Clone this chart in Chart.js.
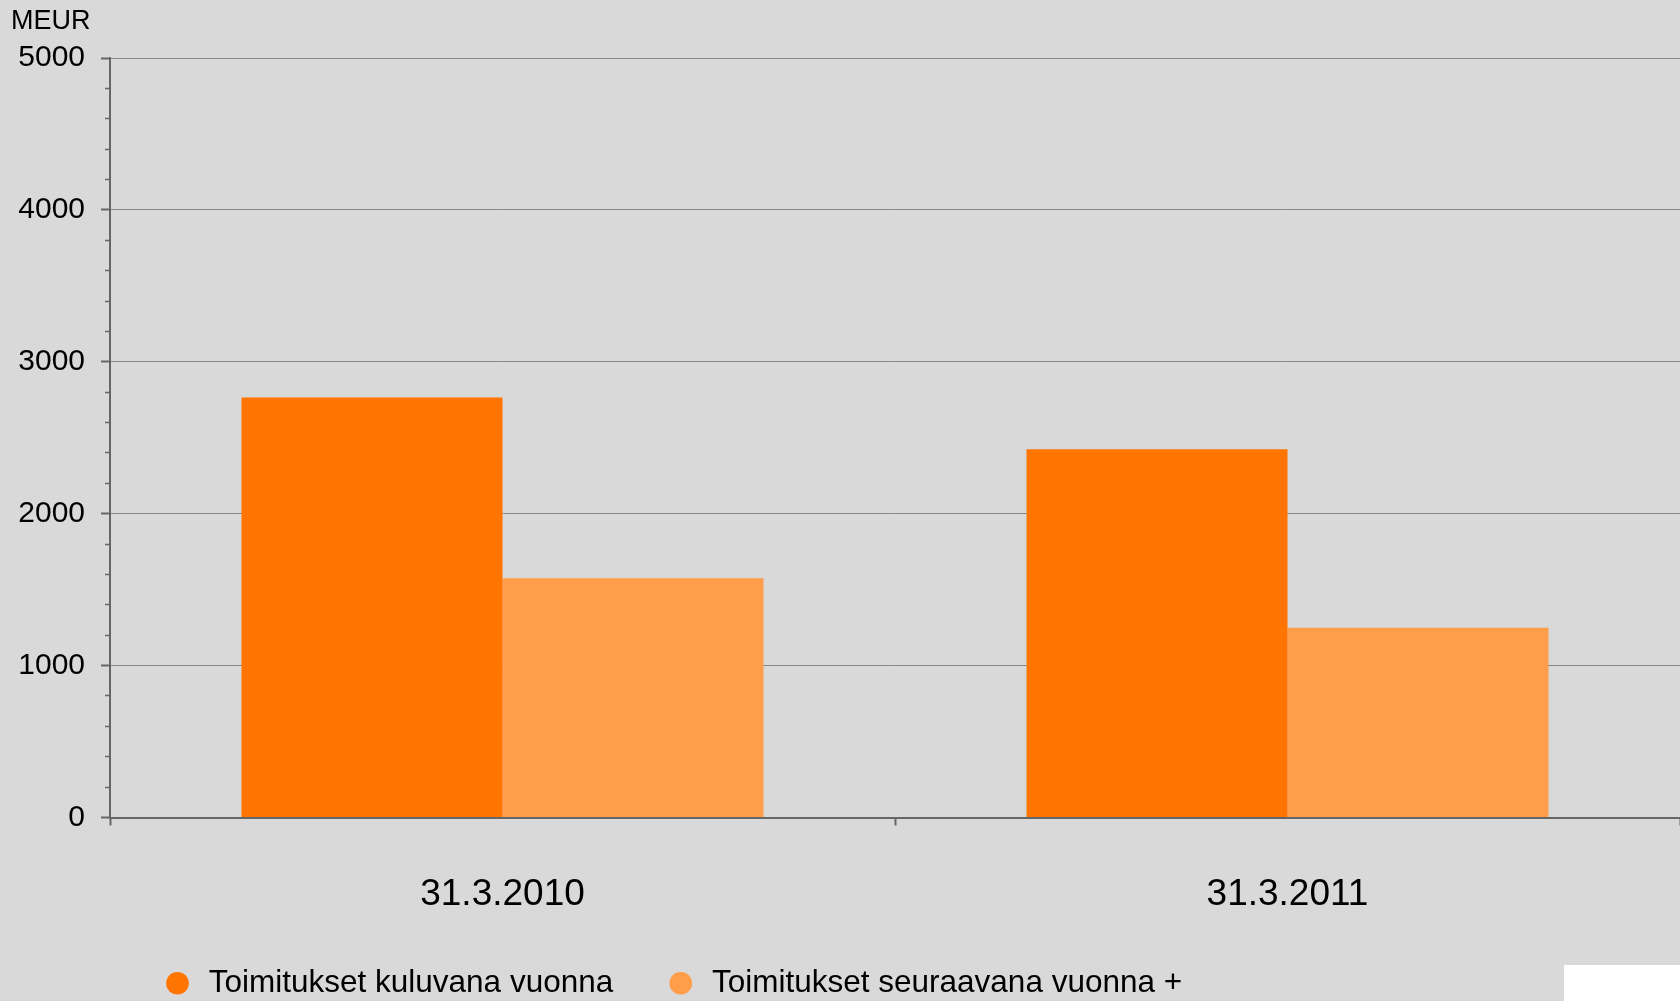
<!DOCTYPE html>
<html><head><meta charset="utf-8">
<script src="https://cdn.jsdelivr.net/npm/chart.js@4/dist/chart.umd.min.js"></script>
<style>
html,body{margin:0;padding:0;background:#d9d9d9;overflow:hidden;width:1680px;height:1001px}
#wrap{position:absolute;left:0;top:0;width:1680px;height:1009px;background:#d9d9d9}
#patch{position:absolute;left:1564px;top:965px;width:116px;height:36px;background:#fff}
</style></head><body>
<div id="wrap"><canvas id="c"></canvas></div>
<div id="patch"></div>
<script>
const categories = ['31.3.2010', '31.3.2011'];
const seriesNames = ['Toimitukset kuluvana vuonna', 'Toimitukset seuraavana vuonna +'];
const currentYear = [2765, 2425];
const nextYear = [1575, 1250];
const yMin = 0, yMax = 5000, yMajorStep = 1000, yMinorStep = 200;
const yAxisTitle = 'MEUR';
const seriesColors = ['#FF7500', '#FF9D4B'];

Chart.defaults.font.family = '"Liberation Sans", Arial, sans-serif';
Chart.defaults.color = '#000';

const isMajor = (ctx) => ctx.tick && (ctx.tick.value % yMajorStep === 0);

new Chart(document.getElementById('c'), {
  type: 'bar',
  data: {
    labels: categories,
    datasets: [
      {label: seriesNames[0], data: currentYear, backgroundColor: seriesColors[0], borderWidth: 0},
      {label: seriesNames[1], data: nextYear, backgroundColor: seriesColors[1], borderWidth: 0}
    ]
  },
  options: {
    responsive: true,
    maintainAspectRatio: false,
    animation: false,
    events: [],
    categoryPercentage: 0.665,
    barPercentage: 1,
    layout: {padding: {left: 11, right: 0, top: 0, bottom: 0}},
    plugins: {
      title: {display: true, text: yAxisTitle, align: 'start', color: '#000',
        font: {size: 27, weight: 'normal'}, padding: {top: 5.8, bottom: 19.8}},
      legend: {position: 'bottom', align: 'start', fullSize: false,
        labels: {usePointStyle: true, pointStyle: 'circle', boxWidth: 31, boxHeight: 16,
          padding: 52, color: '#000', font: {size: 31.5}}},
      tooltip: {enabled: false}
    },
    scales: {
      x: {
        grid: {display: true, drawOnChartArea: false, offset: true, tickLength: 8, tickColor: '#666', tickWidth: 2},
        border: {display: true, color: '#666', width: 2},
        ticks: {color: '#000', font: {size: 37}, padding: 47, maxRotation: 0},
        afterFit: (s) => { s.height = 98; }
      },
      y: {
        min: yMin, max: yMax,
        ticks: {stepSize: yMinorStep, autoSkip: false, padding: 16, color: '#000', font: {size: 30},
          callback: (v) => (v % yMajorStep === 0 ? String(v) : '')},
        grid: {
          color: (ctx) => isMajor(ctx) ? '#888888' : 'rgba(0,0,0,0)',
          lineWidth: 1,
          tickLength: 9,
          tickColor: '#666',
          tickWidth: (ctx) => isMajor(ctx) ? 2 : 1.5,
          tickBorderDash: (ctx) => isMajor(ctx) ? [] : [0, 4, 6, 100]
        },
        border: {display: true, color: '#666', width: 2},
        afterFit: (s) => { s.width = 99; }
      }
    }
  }
});
</script>
</body></html>
